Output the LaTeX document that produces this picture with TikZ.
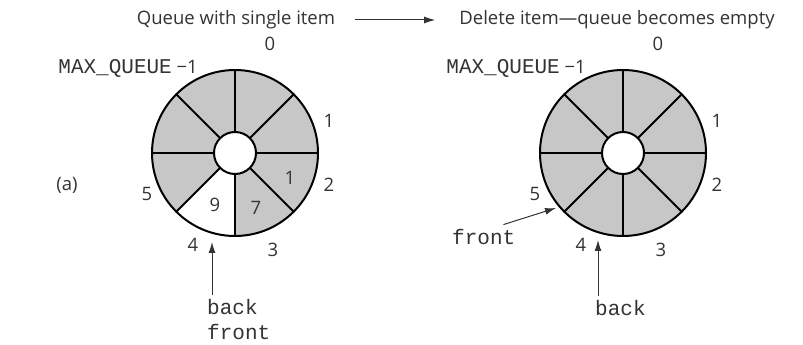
\documentclass[tikz,border=0pt]{standalone}
\usepackage{fontspec}
\setmainfont{Open Sans}
\setmonofont{Liberation Mono}
\usepackage{tikz}
\usetikzlibrary{arrows.meta, positioning, calc}

\newcommand{\qcode}[1]{{\fontsize{21}{24}\selectfont\ttfamily #1}}

\begin{document}
\begin{tikzpicture}[x=1pt, y=1pt, font=\fontsize{18.5}{22}\selectfont,
    lbl/.style={text=ink, inner sep=0pt},
    code/.style={text=ink, inner sep=0pt, font=\fontsize{21}{24}\selectfont\ttfamily},
    ptr/.style={draw=ink, line width=1pt, -{Latex[length=11pt,width=7pt]}},
    ring/.style={draw=black, line width=2pt}]

% ── Colour palette ──────────────────────────────────────────
\colorlet{ink}{black!80}
\colorlet{slot}{black!22}

\useasboundingbox (0,0) rectangle (803,345);

% ── Ring centres ────────────────────────────────────────────
\coordinate (L) at (235,192);
\coordinate (R) at (623,192);

% ── Heading ─────────────────────────────────────────────────
\node[lbl] (before) at (236,325) {Queue with single item};
\node[lbl] (after)  at (617,325) {Delete item—queue becomes empty};
\draw[ptr] ([xshift=20]before.east) -- ([xshift=-24]after.west);

\node[lbl] (tag) at (67,160) {(a)};

% ── Circular arrays ─────────────────────────────────────────
\foreach \c in {L,R} {
  \fill[slot, even odd rule] (\c) circle (83) (\c) circle (21);
}
% slot 4 of the first array is free
\fill[white] ($(L)+(-90:21)$) arc[start angle=-90, end angle=-135, radius=21]
    -- ($(L)+(-135:83)$) arc[start angle=-135, end angle=-90, radius=83] -- cycle;
\foreach \c in {L,R} {
  \foreach \a in {0,45,...,315}
    \draw[ring] ($(\c)+(\a:21)$) -- ($(\c)+(\a:83)$);
  \draw[ring] (\c) circle (83) (\c) circle (21);
  % index labels
  \foreach \i/\dx/\dy in {0/35/109, 1/94/32, 2/94/-32, 3/38/-97, 4/-42/-92, 5/-88/-41}
    \node[lbl] (\c\i) at ($(\c)+(\dx,\dy)$) {\i};
  \node[lbl, anchor=east] (\c max) at ($(\c)+(-37,85)$) {\qcode{MAX\_QUEUE} −1};
}

% ── Stored items ────────────────────────────────────────────
\node[lbl] (item4) at ($(L)+(-20,-52)$) {9};
\node[lbl] (item3) at ($(L)+(21,-55)$)  {7};
\node[lbl] (item2) at ($(L)+(55,-25)$)  {1};

% ── Pointers: before delete ─────────────────────────────────
\node[code, anchor=base west] (backL)  at ($(L)+(-28,-162)$) {back};
\node[code, anchor=base west] (frontL) at ($(L)+(-28,-187)$) {front};
\coordinate (tipL) at ($(L)+(-23,-89)$);
\draw[ptr] ($(backL.north -| tipL)+(0,5)$) -- (tipL);

% ── Pointers: after delete ──────────────────────────────────
\node[code, anchor=base west] (backR)  at ($(R)+(-28,-163)$) {back};
\node[code, anchor=base west] (frontR) at ($(R)+(-171,-92)$) {front};
\coordinate (tipR) at ($(R)+(-25,-87)$);
\coordinate (tipF) at ($(R)+(-67,-55)$);
\draw[ptr] ($(backR.north -| tipR)+(0,5)$) -- (tipR);
\draw[ptr] ($(frontR.north east)+(-12,5)$) -- (tipF);

\end{tikzpicture}
\end{document}
